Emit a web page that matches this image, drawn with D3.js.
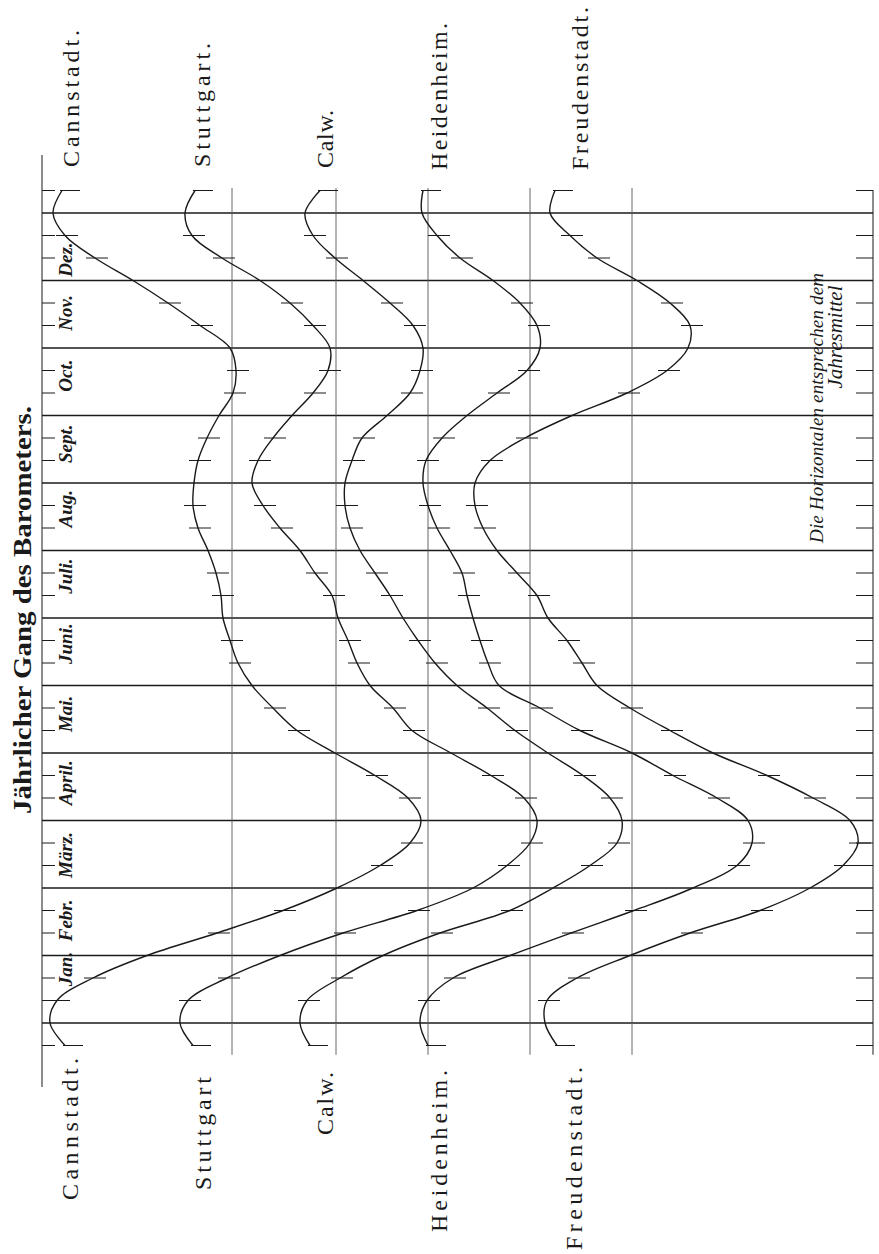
<!DOCTYPE html>
<html>
<head>
<meta charset="utf-8">
<script src="https://cdn.jsdelivr.net/npm/d3@7"></script>
<style>
  body { margin: 0; background: #fff; }
  svg { display: block; }
</style>
</head>
<body>
<svg width="879" height="1254"></svg>
<script>
const months = ["Jan.", "Febr.", "März.", "April.", "Mai.", "Juni.", "Juli.", "Aug.", "Sept.", "Oct.", "Nov.", "Dez."];
const stations = ["Cannstadt", "Stuttgart", "Calw", "Heidenheim", "Freudenstadt"];
const topLabels = ["Cannstadt.", "Stuttgart.", "Calw.", "Heidenheim.", "Freudenstadt."];
const bottomLabels = ["Cannstadt.", "Stuttgart", "Calw.", "Heidenheim.", "Freudenstadt."];

// deviation from the annual mean, one value per third of a month,
// from the last third of the previous December to the first third of the next January
const cannstadt = [-1.67,-1.82,-1.75,-1.39,-0.85,-0.15,0.51,1.05,1.48,1.78,1.89,1.76,1.43,1.03,0.65,0.41,0.20,0.06,-0.02,-0.09,-0.11,-0.16,-0.24,-0.34,-0.39,-0.38,-0.34,-0.25,-0.13,0.01,0.04,-0.02,-0.32,-0.64,-0.99,-1.37,-1.67,-1.79,-1.70];
const stuttgart = [-1.43,-1.56,-1.48,-1.09,-0.56,0.07,0.81,1.37,1.71,1.94,2.01,1.88,1.55,1.15,0.76,0.57,0.34,0.21,0.12,0.02,-0.04,-0.21,-0.36,-0.56,-0.73,-0.84,-0.78,-0.63,-0.44,-0.23,-0.08,-0.06,-0.23,-0.46,-0.76,-1.14,-1.44,-1.51,-1.41];
const calw = [-1.18,-1.28,-1.21,-0.88,-0.45,0.12,0.82,1.25,1.62,1.89,1.94,1.82,1.55,1.20,0.87,0.59,0.29,0.07,-0.10,-0.25,-0.38,-0.53,-0.68,-0.78,-0.83,-0.83,-0.76,-0.66,-0.41,-0.18,-0.08,-0.05,-0.15,-0.38,-0.65,-0.93,-1.15,-1.23,-1.08];
const heidenheim = [-1.02,-1.10,-1.03,-0.77,-0.20,0.41,1.04,1.63,2.07,2.22,2.18,1.87,1.43,1.02,0.50,0.10,-0.31,-0.42,-0.50,-0.57,-0.63,-0.68,-0.80,-0.93,-1.02,-1.07,-1.04,-0.88,-0.63,-0.33,-0.03,0.10,0.07,-0.10,-0.37,-0.70,-0.93,-1.08,-1.07];
const freudenstadt = [-0.75,-0.87,-0.85,-0.55,-0.02,0.58,1.28,1.78,2.11,2.26,2.18,1.81,1.35,0.81,0.38,-0.02,-0.35,-0.50,-0.65,-0.84,-0.95,-1.15,-1.35,-1.49,-1.57,-1.57,-1.42,-1.07,-0.60,-0.05,0.35,0.56,0.58,0.38,0.05,-0.35,-0.62,-0.82,-0.77];
const series = [cannstadt, stuttgart, calw, heidenheim, freudenstadt];

// layout: where each station's mean line sits, and label placement
const stationShift = [0, 1.04, 1.96, 2.98, 4.0];
const monthLabelPos = [0.8, 0.52, 0.49, 0.56, 0.58, 0.62, 0.62, 0.62, 0.58, 0.59, 0.52, 0.31];
const topLabelX = [79, 210, 333, 447, 588];
const topLabelY = [167, 167, 168, 170, 170];
const topLabelLen = [137, 124, 58, 147, 163];
const bottomLabelX = [78, 211, 333, 447, 582];
const bottomLabelY = [1058, 1077, 1072, 1070, 1067];
const bottomLabelLen = [142, 113, 63, 162, 183];

const svg = d3.select("svg");
const ink = "#1a1a1a";
const serif = "'Liberation Serif', 'DejaVu Serif', serif";

const y = d3.scaleLinear().domain([0, 12]).range([1023, 213]);
const x = d3.scaleLinear().domain([0, 4]).range([232, 632]);
const leftX = x(-1.9), rightX = x(6.41);

const steps = d3.range(-1, 38);           // thirds of a month
const tOf = k => k / 3;

// month lines
svg.append("g").selectAll("line")
  .data(d3.range(13))
  .enter().append("line")
  .attr("x1", leftX).attr("x2", rightX)
  .attr("y1", d => y(d)).attr("y2", d => y(d))
  .attr("stroke", ink).attr("stroke-width", 1.3);

// frame
svg.append("line").attr("x1", leftX).attr("x2", leftX).attr("y1", 155).attr("y2", 1087)
  .attr("stroke", ink).attr("stroke-width", 1);
svg.append("line").attr("x1", rightX).attr("x2", rightX).attr("y1", y(12.34)).attr("y2", y(-0.47))
  .attr("stroke", ink).attr("stroke-width", 1);

// mean lines
svg.append("g").selectAll("line")
  .data(stationShift)
  .enter().append("line")
  .attr("x1", d => x(d)).attr("x2", d => x(d))
  .attr("y1", y(12.37)).attr("y2", y(-0.47))
  .attr("stroke", "#555").attr("stroke-width", 0.9);

// frame ticks
const tickSteps = steps.filter(k => k % 3 !== 0);
const ticks = svg.append("g");
ticks.selectAll(".tl").data(tickSteps).enter().append("line")
  .attr("x1", leftX).attr("x2", leftX + 13)
  .attr("y1", k => y(tOf(k))).attr("y2", k => y(tOf(k)))
  .attr("stroke", ink).attr("stroke-width", 1);
ticks.selectAll(".tr").data(tickSteps).enter().append("line")
  .attr("x1", rightX - 17).attr("x2", rightX)
  .attr("y1", k => y(tOf(k))).attr("y2", k => y(tOf(k)))
  .attr("stroke", ink).attr("stroke-width", 1);

// curves
const line = d3.line()
  .x(d => x(d.v))
  .y(d => y(d.t))
  .curve(d3.curveCatmullRom.alpha(0.5));

series.forEach((vals, i) => {
  const pts = vals.map((v, j) => ({ t: tOf(steps[j]), v: v + stationShift[i], k: steps[j] }));
  const g = svg.append("g");
  g.append("path")
    .attr("d", line(pts))
    .attr("fill", "none")
    .attr("stroke", ink)
    .attr("stroke-width", 1.4);
  g.selectAll("line")
    .data(pts.filter(p => p.k % 3 !== 0))
    .enter().append("line")
    .attr("x1", p => x(p.v) - ((p.k === -1 || p.k === 37) ? 2 : 9))
    .attr("x2", p => x(p.v) + ((p.k === -1 || p.k === 37) ? 18 : 13))
    .attr("y1", p => y(p.t)).attr("y2", p => y(p.t))
    .attr("stroke", ink).attr("stroke-width", 1);
});

// month labels
svg.append("g").selectAll("text")
  .data(months)
  .enter().append("text")
  .attr("transform", (d, i) => `translate(72,${y(i + monthLabelPos[i])}) rotate(-90)`)
  .attr("text-anchor", "middle")
  .attr("font-family", serif)
  .attr("font-style", "italic")
  .attr("font-weight", "bold")
  .attr("font-size", 19)
  .attr("fill", ink)
  .text(d => d);

// title
svg.append("text")
  .attr("transform", "translate(31,610) rotate(-90)")
  .attr("text-anchor", "middle")
  .attr("font-family", serif)
  .attr("font-weight", "bold")
  .attr("font-size", 26)
  .attr("textLength", 408)
  .attr("lengthAdjust", "spacingAndGlyphs")
  .attr("fill", ink)
  .text("Jährlicher Gang des Barometers.");

// station labels
svg.append("g").selectAll("text")
  .data(topLabels)
  .enter().append("text")
  .attr("transform", (d, i) => `translate(${topLabelX[i]},${topLabelY[i]}) rotate(-90)`)
  .attr("text-anchor", "start")
  .attr("font-family", serif)
  .attr("font-size", 24)
  .attr("textLength", (d, i) => topLabelLen[i])
  .attr("lengthAdjust", "spacing")
  .attr("fill", ink)
  .text(d => d);

svg.append("g").selectAll("text")
  .data(bottomLabels)
  .enter().append("text")
  .attr("transform", (d, i) => `translate(${bottomLabelX[i]},${bottomLabelY[i]}) rotate(-90)`)
  .attr("text-anchor", "end")
  .attr("font-family", serif)
  .attr("font-size", 24)
  .attr("textLength", (d, i) => bottomLabelLen[i])
  .attr("lengthAdjust", "spacing")
  .attr("fill", ink)
  .text(d => d);

// note
svg.append("text")
  .attr("transform", "translate(823,408) rotate(-90)")
  .attr("text-anchor", "middle")
  .attr("font-family", serif)
  .attr("font-style", "italic")
  .attr("font-size", 19)
  .attr("textLength", 270)
  .attr("lengthAdjust", "spacing")
  .attr("fill", ink)
  .text("Die Horizontalen entsprechen dem");
svg.append("text")
  .attr("transform", "translate(842,337) rotate(-90)")
  .attr("text-anchor", "middle")
  .attr("font-family", serif)
  .attr("font-style", "italic")
  .attr("font-size", 21)
  .attr("fill", ink)
  .text("Jahresmittel");
</script>
</body>
</html>
